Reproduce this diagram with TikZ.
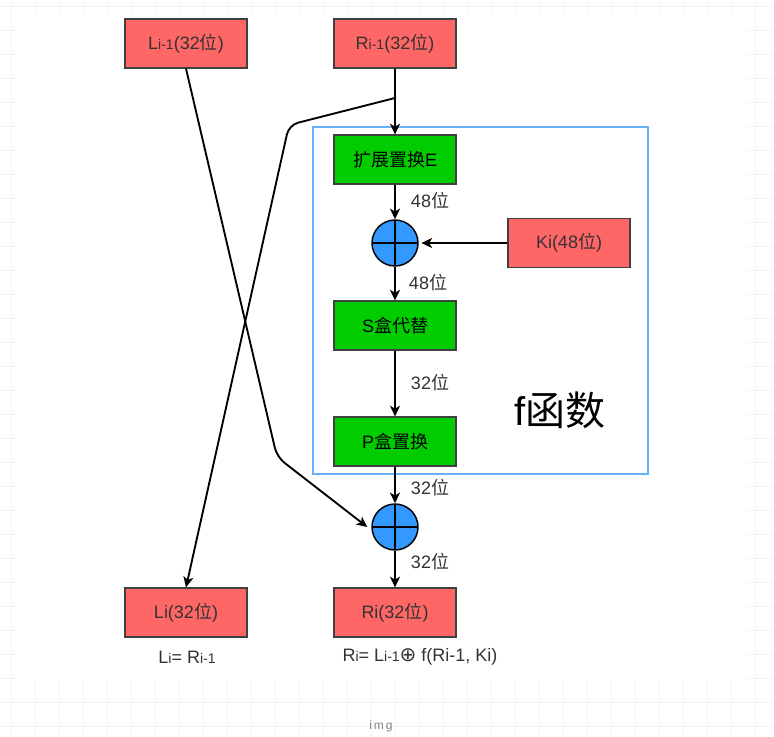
\documentclass[tikz,border=0pt]{standalone}
\usepackage{fontspec}
\setmainfont{Liberation Sans}
\newfontfamily\cjk{Noto Sans CJK SC}
\newfontfamily\symf{DejaVu Sans}
\usetikzlibrary{arrows.meta}
\definecolor{boxred}{HTML}{FF6666}
\definecolor{boxgreen}{HTML}{00CC00}
\definecolor{xorblue}{HTML}{3399FF}
\definecolor{framec}{HTML}{66B2FF}
\definecolor{txt}{HTML}{333333}
\definecolor{gridc}{HTML}{F3F3F3}
\newcommand{\wei}{{\cjk 位}}
\newcommand{\smtxt}[1]{{\fontsize{10.5}{11}\selectfont #1}}
\begin{document}
\begin{tikzpicture}[x=0.75pt,y=-0.75pt,
 every node/.style={font=\fontsize{13.5}{15}\selectfont, text=txt},
 redbox/.style={draw=black!75, line width=0.9pt, fill=boxred, minimum width=91.5pt, minimum height=36.75pt, inner sep=0pt},
 greenbox/.style={redbox, fill=boxgreen, text=black},
 xor/.style={circle, draw=black, line width=1.1pt, fill=xorblue, minimum size=34.5pt, inner sep=0pt,
   path picture={\draw[line width=1.1pt] (path picture bounding box.north) -- (path picture bounding box.south)
   (path picture bounding box.west) -- (path picture bounding box.east);}},
 conn/.style={line width=1.4pt, -{Stealth[length=8pt,width=7.5pt,inset=2.2pt]}},
 lbl/.style={font=\fontsize{13.5}{15}\selectfont, text=txt}
]
\useasboundingbox (0,0) rectangle (774,736);
% background grid
\foreach \i in {0,...,31} \draw[gridc, line width=0.75pt] (11+24*\i,0) -- (11+24*\i,736);
\foreach \j in {0,...,30} \draw[gridc, line width=0.75pt] (0,6+24*\j) -- (774,6+24*\j);
\fill[white] (16,15) rectangle (748,680);

% f frame
\draw[framec, line width=1.5pt] (313,127) rectangle (648,474);
\node[font=\fontsize{30}{32}\selectfont, text=black] (ftitle) at (560,410) {f{\cjk 函数}};

% nodes
\node[redbox] (lprev) at (186,43.5) {L\smtxt{i-1}(32\wei)};
\node[redbox] (rprev) at (395,43.5) {R\smtxt{i-1}(32\wei)};
\node[greenbox] (ebox) at (395,159.5) {{\cjk 扩展置换}E};
\node[xor] (xor1) at (395,243) {};
\node[redbox] (kbox) at (569,243) {Ki(48\wei)};
\node[greenbox] (sbox) at (395,325.5) {S{\cjk 盒代替}};
\node[greenbox] (pbox) at (395,441.5) {P{\cjk 盒置换}};
\node[xor] (xor2) at (395,527) {};
\node[redbox] (lnext) at (186,612.5) {Li(32\wei)};
\node[redbox] (rnext) at (395,612.5) {Ri(32\wei)};

% edge labels
\node[lbl] (l1) at (430,201) {48\wei};
\node[lbl] (l2) at (428,283) {48\wei};
\node[lbl] (l3) at (430,383) {32\wei};
\node[lbl] (l4) at (430,488) {32\wei};
\node[lbl] (l5) at (430,562) {32\wei};

% formulas
\node[lbl] (leq) at (187,657) {L\smtxt{i}= R\smtxt{i-1}};
\node[lbl] (req) at (420,657) {R\smtxt{i}= L\smtxt{i-1}{\symf\fontsize{15}{15}\selectfont ⊕} f(Ri-1, Ki)};
\node[text=gray, font=\fontsize{9}{10}\selectfont] (img) at (381,726) {i\,m\,g};

% connectors
\draw[conn] (rprev) -- (ebox);
\draw[conn] (ebox) -- (xor1);
\draw[conn, shorten >=2pt] (kbox) -- (xor1);
\draw[conn] (xor1) -- (sbox);
\draw[conn] (sbox) -- (pbox);
\draw[conn] (pbox) -- (xor2);
\draw[conn] (xor2) -- (rnext);
\coordinate (split) at (395,98);
\coordinate (c1) at (289,125);
\coordinate (c2) at (277,457);
\draw[conn, rounded corners=7pt] (split) -- (c1) -- (lnext.north);
\draw[conn, rounded corners=7pt] (lprev.south) -- (c2) -- ([xshift=-3]xor2.west);
\end{tikzpicture}
\end{document}
